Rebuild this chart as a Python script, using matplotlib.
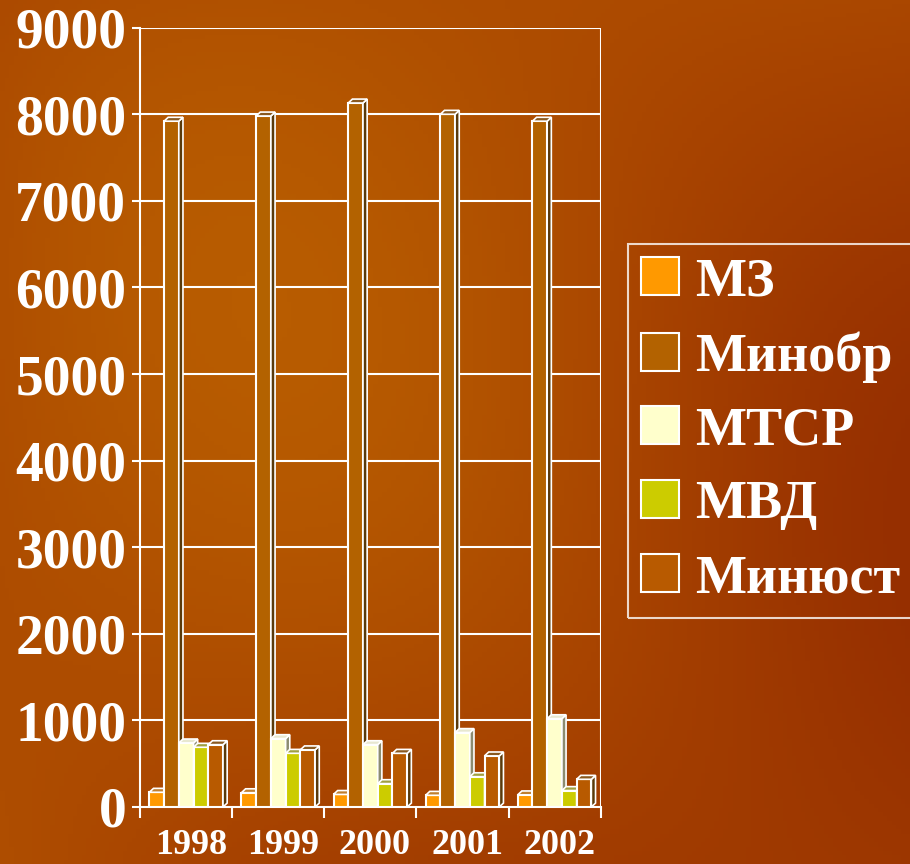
import numpy as np
import matplotlib.pyplot as plt
from matplotlib.patches import Polygon, Rectangle

# data
years = ["1998", "1999", "2000", "2001", "2002"]
series = ["МЗ", "Минобр", "МТСР", "МВД", "Минюст"]
mz = [170, 165, 145, 135, 140]
minobr = [7920, 7980, 8130, 8000, 7920]
mtsr = [740, 790, 720, 860, 1020]
mvd = [690, 620, 270, 350, 190]
minyust = [720, 660, 620, 590, 320]
yticks = [0, 1000, 2000, 3000, 4000, 5000, 6000, 7000, 8000, 9000]

values = [mz, minobr, mtsr, mvd, minyust]
front = ["#FF9900", "#B36200", "#FFFFCC", "#CCCC00", "#B85A00"]
side = ["#8A5A10", "#5A3A0A", "#8C8C70", "#7A7A10", "#5A3A0A"]
top = ["#C08030", "#8A5A20", "#E8E8D0", "#A0A040", "#8A5A20"]

bg = "#A84400"
serif = "Liberation Serif"

fig = plt.figure(figsize=(9.1, 8.64), dpi=100, facecolor=bg)

# background texture
bgax = fig.add_axes([0, 0, 1, 1], zorder=-10)
gy, gx = np.mgrid[0:1:200j, 0:1:200j]
grad = 0.5 + 0.35 * np.sin(3.0 * gx + 2.0 * gy) + 0.15 * np.cos(5 * gx - 4 * gy)
bgax.imshow(grad, cmap=plt.matplotlib.colors.LinearSegmentedColormap.from_list(
    "bg", ["#962F00", "#A84400", "#B85C00"]), extent=[0, 1, 0, 1], aspect="auto")
bgax.axis("off")

ax = fig.add_axes([0.154, 0.066, 0.506, 0.902])
ax.set_facecolor("none")
ax.set_xlim(0, 5)
ax.set_ylim(0, 9000)

for yv in yticks[1:]:
    ax.axhline(yv, color="white", lw=1.5, zorder=1)
ax.axvline(5, color="white", lw=1.5, zorder=1)

w = 0.16
dx = 0.045
dy = 45
for j in range(len(series)):
    for i in range(len(years)):
        x0 = i + 0.5 + (j - 2.5) * w
        v = values[j][i]
        ax.add_patch(Rectangle((x0, 0), w, v, facecolor=front[j], edgecolor="white", lw=1.5, zorder=3 + j))
        ax.add_patch(Polygon([(x0 + w, 0), (x0 + w + dx, dy), (x0 + w + dx, v + dy), (x0 + w, v)],
                             closed=True, facecolor=side[j], edgecolor="white", lw=1.2, zorder=3 + j))
        ax.add_patch(Polygon([(x0, v), (x0 + dx, v + dy), (x0 + w + dx, v + dy), (x0 + w, v)],
                             closed=True, facecolor=top[j], edgecolor="white", lw=1.2, zorder=3 + j))

for s in ["top", "right"]:
    ax.spines[s].set_visible(False)
for s in ["left", "bottom"]:
    ax.spines[s].set_color("white")
    ax.spines[s].set_linewidth(1.5)

ax.set_yticks(yticks)
ax.set_yticklabels([str(t) for t in yticks])
ax.set_xticks(range(6), minor=True)
ax.set_xticks([i + 0.55 for i in range(5)])
ax.set_xticklabels(years)
ax.tick_params(axis="x", which="major", length=0, pad=16)
ax.tick_params(axis="x", which="minor", length=8, width=1.5, color="white")
ax.tick_params(axis="y", length=6, width=1.5, color="white", pad=4)
for lab in ax.get_yticklabels():
    lab.set_fontfamily(serif)
    lab.set_fontweight("bold")
    lab.set_fontsize(40)
    lab.set_color("white")
for lab in ax.get_xticklabels():
    lab.set_fontfamily(serif)
    lab.set_fontweight("bold")
    lab.set_fontsize(26)
    lab.set_color("white")

handles = [Rectangle((0, 0), 1, 1, facecolor=front[j], edgecolor="white", lw=1.5) for j in range(len(series))]
leg = fig.legend(handles, series, loc="upper left", bbox_to_anchor=(0.69, 0.718),
                 frameon=True, fancybox=False, prop={"family": serif, "weight": "bold", "size": 39},
                 labelcolor="white", handlelength=0.7, handleheight=0.7, handletextpad=0.3,
                 labelspacing=0.44, borderpad=0.25, borderaxespad=0)
leg.get_frame().set_facecolor("none")
leg.get_frame().set_edgecolor("white")
leg.get_frame().set_linewidth(1.5)

fig.savefig("out.png", dpi=100, facecolor=bg)
